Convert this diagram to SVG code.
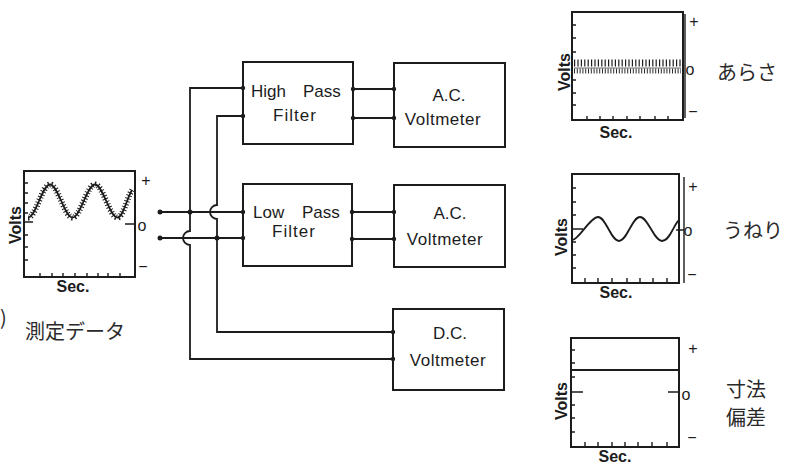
<svg xmlns="http://www.w3.org/2000/svg" width="796" height="465" viewBox="0 0 796 465">
<style>
.box{fill:none;stroke:#1c1c1c;stroke-width:2}
.wire{fill:none;stroke:#1c1c1c;stroke-width:1.8}
.tick{fill:none;stroke:#1c1c1c;stroke-width:1.4}
.term{fill:#1c1c1c}
.lbl{font-family:"Liberation Sans",Arial,sans-serif;font-size:17px;fill:#1c1c1c}
.ax{font-family:"Liberation Sans",Arial,sans-serif;font-size:16px;font-weight:bold;fill:#1c1c1c}
.sc{font-family:"Liberation Sans",Arial,sans-serif;font-size:16px;fill:#1c1c1c}
.jp{font-family:"Noto Sans CJK JP",sans-serif;font-size:20px;fill:#2a2a2a}
.wave{fill:none;stroke:#1c1c1c;stroke-width:1.8}
</style>
<rect width="796" height="465" fill="#ffffff"/>

<!-- Input measured data graph -->
<g id="graph-input">
  <rect class="box" x="24" y="171" width="111" height="106"/>
  <path class="tick" d="M24,183h4M24,193h4M24,203h4M24,213h4M24,222h9M24,235h4M24,247h4M24,260h4M125,224h10M40,277v-4M52,277v-4M63,277v-4M75,277v-4M87,277v-4M98,277v-4M108,277v-4M120,277v-4"/>
  <path class="wave" d="M28,217.5 C36,217.5 42,184.5 50,184.5 C58,184.5 64.5,217.5 72.5,217.5 C80.5,217.5 87,184.5 95,184.5 C103,184.5 109.5,217.5 117.5,217.5 C123,217.5 127,198 132,190"/>
  <path d="M28,217.5 C36,217.5 42,184.5 50,184.5 C58,184.5 64.5,217.5 72.5,217.5 C80.5,217.5 87,184.5 95,184.5 C103,184.5 109.5,217.5 117.5,217.5 C123,217.5 127,198 132,190" fill="none" stroke="#1c1c1c" stroke-width="6" stroke-dasharray="1 2"/>
  <text class="ax" transform="translate(21,225) rotate(-90)" text-anchor="middle" font-size="17">Volts</text>
  <text class="ax" x="73" y="292" text-anchor="middle" font-size="16">Sec.</text>
  <text class="sc" x="146" y="186" text-anchor="middle">+</text>
  <text class="sc" x="142" y="231" text-anchor="middle">o</text>
  <text class="sc" x="143" y="272" text-anchor="middle">−</text>
  <text class="jp" x="0" y="325" font-size="18">)</text>
  <text class="jp" x="25" y="339">測定データ</text>
</g>

<!-- Blocks -->
<g id="hpf">
  <rect class="box" x="243" y="62" width="110" height="82"/>
  <text class="lbl" x="251" y="97">High</text>
  <text class="lbl" x="303" y="97">Pass</text>
  <text class="lbl" x="295" y="121" text-anchor="middle" letter-spacing="1">Filter</text>
</g>
<g id="acv1">
  <rect class="box" x="394" y="63" width="111" height="84"/>
  <text class="lbl" x="449" y="101" text-anchor="middle">A.C.</text>
  <text class="lbl" x="443" y="125" text-anchor="middle" letter-spacing="0.5">Voltmeter</text>
</g>
<g id="lpf">
  <rect class="box" x="243" y="184" width="109" height="82"/>
  <text class="lbl" x="253" y="218">Low</text>
  <text class="lbl" x="302" y="218">Pass</text>
  <text class="lbl" x="294" y="237" text-anchor="middle" letter-spacing="1">Filter</text>
</g>
<g id="acv2">
  <rect class="box" x="394" y="185" width="111" height="82"/>
  <text class="lbl" x="450" y="219" text-anchor="middle">A.C.</text>
  <text class="lbl" x="445" y="245" text-anchor="middle" letter-spacing="0.5">Voltmeter</text>
</g>
<g id="dcv">
  <rect class="box" x="393" y="309" width="111" height="81"/>
  <text class="lbl" x="450" y="339" text-anchor="middle">D.C.</text>
  <text class="lbl" x="448" y="366" text-anchor="middle" letter-spacing="0.5">Voltmeter</text>
</g>

<!-- Connectors -->
<g id="connectors">
  <path class="wire" d="M160,212 H243"/>
  <path class="wire" d="M160,238 H243"/>
  <path class="wire" d="M243,88 H190 V231 A7,7 0 0 0 190,245 V359 H393"/>
  <path class="wire" d="M243,116 H217 V205 A7,7 0 0 0 217,219 V332 H393"/>
  <path class="wire" d="M353,89 H394 M353,118 H394 M352,212 H394 M352,239 H394"/>
  <circle class="term" cx="160" cy="212" r="2.5"/>
  <circle class="term" cx="160" cy="238" r="2.5"/>
  <circle class="term" cx="190" cy="212" r="2.5"/>
  <circle class="term" cx="217" cy="238" r="2.5"/>
  <circle class="term" cx="243" cy="88" r="2.2"/>
  <circle class="term" cx="243" cy="116" r="2.2"/>
  <circle class="term" cx="243" cy="212" r="2.2"/>
  <circle class="term" cx="243" cy="238" r="2.2"/>
  <circle class="term" cx="353" cy="89" r="2.2"/>
  <circle class="term" cx="353" cy="118" r="2.2"/>
  <circle class="term" cx="352" cy="212" r="2.2"/>
  <circle class="term" cx="352" cy="239" r="2.2"/>
  <circle class="term" cx="394" cy="89" r="2.2"/>
  <circle class="term" cx="394" cy="118" r="2.2"/>
  <circle class="term" cx="394" cy="212" r="2.2"/>
  <circle class="term" cx="394" cy="239" r="2.2"/>
  <circle class="term" cx="393" cy="332" r="2.2"/>
  <circle class="term" cx="393" cy="359" r="2.2"/>
</g>

<!-- Output graph: roughness -->
<g id="graph-roughness">
  <rect class="box" x="572" y="12" width="111" height="108"/>
  <path class="tick" d="M685,14V118 M572,25h4M572,38h4M572,52h4M572,80h4M572,93h4M572,105h4M587,120v-4M600,120v-4M613,120v-4M627,120v-4M640,120v-4M655,120v-4M668,120v-4"/>
  <path d="M574,63H681" fill="none" stroke="#1c1c1c" stroke-width="7" stroke-dasharray="1.2 2.2"/>
  <path d="M574,71H681" fill="none" stroke="#2a2a2a" stroke-width="5" stroke-dasharray="1 1.8"/>
  <path d="M574,68H681" fill="none" stroke="#444" stroke-width="0.8"/>
  <text class="ax" transform="translate(570,72) rotate(-90)" text-anchor="middle">Volts</text>
  <text class="ax" x="616" y="138" text-anchor="middle" font-size="15">Sec.</text>
  <text class="sc" x="694" y="27" text-anchor="middle">+</text>
  <text class="sc" x="690" y="75" text-anchor="middle">o</text>
  <text class="sc" x="693" y="117" text-anchor="middle">−</text>
  <text class="jp" x="717" y="80">あらさ</text>
</g>

<!-- Output graph: waviness -->
<g id="graph-waviness">
  <rect class="box" x="572" y="174" width="107" height="109"/>
  <path class="tick" d="M684,177V283 M572,188h4M572,202h4M572,215h4M572,229h11M572,242h4M572,255h4M572,268h4M585,283v-5M598,283v-5M612,283v-5M627,283v-5M640,283v-5M653,283v-5M667,283v-5M676,230h8"/>
  <path class="wave" d="M572,240 C578,241 590,217 598,217 C606,217 611,241 619,241 C627,241 632,217 640,217 C648,217 654,241 662,241 C670,241 674,224 679,220"/>
  <text class="ax" transform="translate(567,237) rotate(-90)" text-anchor="middle">Volts</text>
  <text class="ax" x="616" y="298" text-anchor="middle">Sec.</text>
  <text class="sc" x="693" y="192" text-anchor="middle">+</text>
  <text class="sc" x="688" y="236" text-anchor="middle">o</text>
  <text class="sc" x="692" y="280" text-anchor="middle">−</text>
  <text class="jp" x="723" y="238" font-size="19">うねり</text>
</g>

<!-- Output graph: dimensional deviation -->
<g id="graph-deviation">
  <rect class="box" x="571" y="338" width="108" height="109"/>
  <path class="tick" d="M571,350h4M571,363h4M571,377h4M571,392h12M571,405h4M571,418h4M571,432h4M585,447v-5M598,447v-5M612,447v-5M625,447v-5M638,447v-5M652,447v-5M667,447v-5M668,392h11"/>
  <path class="wave" d="M572,370 H679"/>
  <text class="ax" transform="translate(567,401) rotate(-90)" text-anchor="middle">Volts</text>
  <text class="ax" x="615" y="462" text-anchor="middle">Sec.</text>
  <text class="sc" x="693" y="354" text-anchor="middle">+</text>
  <text class="sc" x="686" y="400" text-anchor="middle">o</text>
  <text class="sc" x="692" y="443" text-anchor="middle">−</text>
  <text class="jp" x="726" y="397" font-size="19">寸法</text>
  <text class="jp" x="726" y="425" font-size="19">偏差</text>
</g>
</svg>
